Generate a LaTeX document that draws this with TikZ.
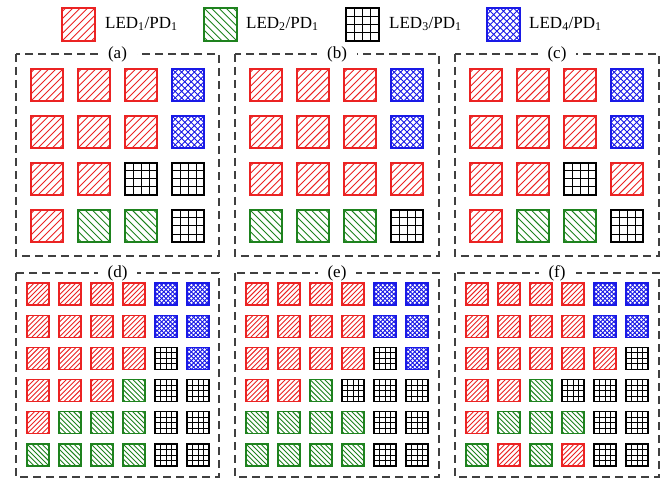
\documentclass[tikz,border=0pt]{standalone}
\usepackage{fontspec}
\setmainfont{Liberation Serif}
\usetikzlibrary{positioning}
\definecolor{ledred}{RGB}{235,35,35}
\definecolor{ledgreen}{RGB}{30,130,30}
\definecolor{ledblue}{RGB}{25,25,230}
\tikzset{
  ledbox/.style  = {line width=1.2pt},
  hatch/.style   = {line width=0.9pt},
  panel/.style   = {draw=black!75, line width=1.2pt, dash pattern=on 8pt off 5pt},
  plabel/.style  = {fill=white, inner xsep=10pt, inner ysep=1pt},
  legtext/.style = {anchor=west, inner sep=0pt},
}
% one LED/PD cell, top-left corner at the origin, side #1
\newcommand{\ledr}[1]{%
  \begin{scope}
    \clip (0,0) rectangle (#1,#1);
    \foreach \t in {-4,...,4} \draw[hatch, ledred] (\t*#1/4.5,#1) -- ++(#1,-#1);
  \end{scope}
  \draw[ledbox, ledred] (0,0) rectangle (#1,#1);}
\newcommand{\ledg}[1]{%
  \begin{scope}
    \clip (0,0) rectangle (#1,#1);
    \foreach \t in {-4,...,4} \draw[hatch, ledgreen] (\t*#1/4.5,0) -- ++(#1,#1);
  \end{scope}
  \draw[ledbox, ledgreen] (0,0) rectangle (#1,#1);}
\newcommand{\ledk}[1]{%
  \foreach \t in {1,2,3} {
    \draw[hatch, black, line width=1pt] (\t*#1/4,0) -- (\t*#1/4,#1);
    \draw[hatch, black, line width=1pt] (0,\t*#1/4) -- (#1,\t*#1/4);
  }
  \draw[ledbox, black] (0,0) rectangle (#1,#1);}
\newcommand{\ledb}[1]{%
  \begin{scope}
    \clip (0,0) rectangle (#1,#1);
    \foreach \t in {-5,...,5} {
      \draw[hatch, ledblue] (\t*#1/5,#1) -- ++(#1,-#1);
      \draw[hatch, ledblue] (\t*#1/5,0) -- ++(#1,#1);
    }
    \foreach \i in {-5,...,5} \foreach \j in {-5,...,5}
      \fill[ledblue] ({(\i+\j+5)*#1/10},{(\i-\j+5)*#1/10}) circle (0.8);
  \end{scope}
  \draw[ledbox, ledblue] (0,0) rectangle (#1,#1);}
% #1 x, #2 y of first cell, #3 side, #4 x pitch, #5 y pitch, #6 rows
\newcommand{\ledgrid}[6]{%
  \foreach \row [count=\j from 0] in {#6} {
    \foreach \c [count=\i from 0] in \row {
      \begin{scope}[shift={({#1+\i*#4},{#2+\j*#5})}]
        \csname led\c\endcsname{#3}
      \end{scope}
    }
  }}

\begin{document}
\begin{tikzpicture}[x=1pt, y=-1pt, font=\fontsize{17}{20}\selectfont]
  \useasboundingbox (0,0) rectangle (671,478);

  % legend
  \begin{scope}[shift={(62,8)}]\ledr{33}\end{scope}
  \node[legtext] (leg1) at (105,24) {LED\textsubscript{1}/PD\textsubscript{1}};
  \begin{scope}[shift={(204,8)}]\ledg{33}\end{scope}
  \node[legtext] (leg2) at (246,24) {LED\textsubscript{2}/PD\textsubscript{1}};
  \begin{scope}[shift={(346,8)}]\ledk{33}\end{scope}
  \node[legtext] (leg3) at (389,24) {LED\textsubscript{3}/PD\textsubscript{1}};
  \begin{scope}[shift={(487,8)}]\ledb{33}\end{scope}
  \node[legtext] (leg4) at (529,24) {LED\textsubscript{4}/PD\textsubscript{1}};

  % top row: 4x4 arrays
  \draw[panel] (16,54) rectangle (219,256);
  \draw[panel] (235,54) rectangle (439,256);
  \draw[panel] (455,54) rectangle (659,256);
  \node[plabel] (pa) at (117.5,54) {(a)};
  \node[plabel] (pb) at (337,54) {(b)};
  \node[plabel] (pc) at (557,54) {(c)};
  \ledgrid{31}{69}{32}{47}{47}{{r,r,r,b},{r,r,r,b},{r,r,k,k},{r,g,g,k}}
  \ledgrid{250}{69}{32}{47}{47}{{r,r,r,b},{r,r,r,b},{r,r,r,r},{g,g,g,k}}
  \ledgrid{470}{69}{32}{47}{47}{{r,r,r,b},{r,r,r,b},{r,r,k,r},{r,g,g,k}}

  % bottom row: 6x6 arrays
  \draw[panel] (16,273) rectangle (219,477);
  \draw[panel] (235,273) rectangle (439,477);
  \draw[panel] (455,273) rectangle (659,477);
  \node[plabel] (pd) at (117.5,273) {(d)};
  \node[plabel] (pe) at (337,273) {(e)};
  \node[plabel] (pf) at (557,273) {(f)};
  \ledgrid{27}{283}{22}{32}{32.2}{{r,r,r,r,b,b},{r,r,r,r,b,b},{r,r,r,r,k,b},{r,r,r,g,k,k},{r,g,g,g,k,k},{g,g,g,g,k,k}}
  \ledgrid{246}{283}{22}{32}{32.2}{{r,r,r,r,b,b},{r,r,r,r,b,b},{r,r,r,r,k,b},{r,r,g,k,k,k},{g,g,g,g,k,k},{g,g,g,g,k,k}}
  \ledgrid{466}{283}{22}{32}{32.2}{{r,r,r,r,b,b},{r,r,r,r,b,b},{r,r,r,r,r,k},{r,r,g,k,k,k},{r,g,g,g,k,k},{g,r,g,r,k,k}}
\end{tikzpicture}
\end{document}
